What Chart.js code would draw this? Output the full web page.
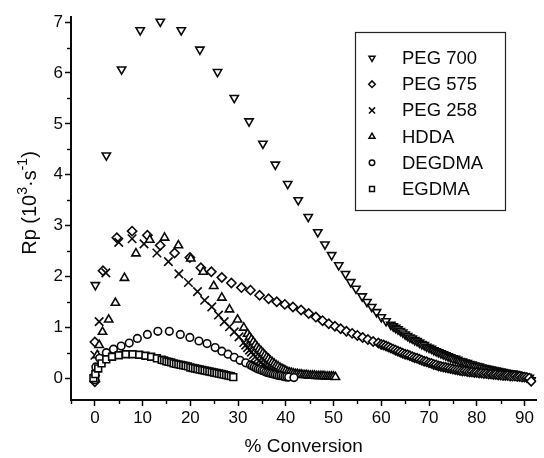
<!DOCTYPE html>
<html>
<head>
<meta charset="utf-8">
<script src="https://cdn.jsdelivr.net/npm/chart.js@4/dist/chart.umd.min.js"></script>
<style>
html,body{margin:0;padding:0;background:#fff;}
#wrap{width:544px;height:458px;position:relative;}
</style>
</head>
<body>
<div id="wrap"><canvas id="c" width="544" height="458"></canvas></div>
<script>
// ---- Data: [% conversion, Rp (10^3 s^-1)] ----
const seriesLabels = ["PEG 700", "PEG 575", "PEG 258", "HDDA", "DEGDMA", "EGDMA"];

const peg700 = [[0,0.0],[0.1,1.83],[2.4,4.38],[5.6,6.07],[9.5,6.84],[13.7,7.01],[18.1,6.84],[22.0,6.46],[25.7,6.02],[29.2,5.51],[32.3,5.05],[35.2,4.61],[37.8,4.20],[40.4,3.82],[42.6,3.50],[44.7,3.17],[46.7,2.87],[48.2,2.63],[49.6,2.42],[51.1,2.22],[52.5,2.05],[53.6,1.89],[54.7,1.76],[56.0,1.61],[57.0,1.50],[58.0,1.40],[59.0,1.30],[60.0,1.20],[61.0,1.12],[62.0,1.05],
  [62.5,1.02],[63.0,0.99],[63.5,0.96],[64.0,0.93],[64.5,0.90],[65.0,0.86],[65.5,0.83],[66.0,0.80],[66.5,0.78],[67.0,0.75],[67.5,0.73],[68.0,0.70],[68.5,0.67],[69.0,0.65],[69.5,0.62],[70.0,0.60],[70.5,0.58],[71.0,0.55],[71.5,0.53],[72.0,0.51],[72.5,0.49],[73.0,0.47],[73.5,0.45],[74.0,0.43],[74.5,0.41],[75.0,0.39],[75.5,0.38],[76.0,0.36],[76.5,0.34],[77.0,0.33],[77.5,0.31],[78.0,0.30],[78.5,0.28],[79.0,0.27],[79.5,0.25],[80.0,0.24],[80.5,0.23],[81.0,0.21],[81.5,0.20],[82.0,0.19],[82.5,0.18],[83.0,0.17],[83.5,0.16],[84.0,0.15],[84.5,0.14],[85.0,0.13],[85.5,0.12],[86.0,0.11],[86.5,0.10],[87.0,0.09],[87.5,0.09],[88.0,0.08],[88.5,0.07],[89.0,0.06],[89.5,0.05],[90.0,0.04],[90.5,0.03],[91.0,0.01],[91.4,-0.04]];

const peg575 = [[0,-0.07],[0,0.71],[1.7,2.11],[4.6,2.76],[7.8,2.89],[11.0,2.81],[13.7,2.61],[16.7,2.46],[19.9,2.37],[22.2,2.17],[24.4,2.09],[26.6,1.98],[28.6,1.87],[30.7,1.78],[32.6,1.73],[34.5,1.63],[36.4,1.56],[38.1,1.50],[39.8,1.45],[41.5,1.40],[43.2,1.34],[44.8,1.27],[46.3,1.20],[47.7,1.13],[49.0,1.07],[50.3,1.02],[51.5,0.97],[52.7,0.92],[53.9,0.88],[55.0,0.84],[56.1,0.80],[57.2,0.76],[58.3,0.72],[59.4,0.69],
  [60.0,0.66],[60.5,0.65],[61.0,0.63],[61.5,0.61],[62.0,0.59],[62.5,0.57],[63.0,0.55],[63.5,0.53],[64.0,0.51],[64.5,0.49],[65.0,0.47],[65.5,0.46],[66.0,0.44],[66.5,0.42],[67.0,0.40],[67.5,0.39],[68.0,0.37],[68.5,0.35],[69.0,0.33],[69.5,0.32],[70.0,0.30],[70.5,0.29],[71.0,0.27],[71.5,0.26],[72.0,0.24],[72.5,0.23],[73.0,0.22],[73.5,0.21],[74.0,0.20],[74.5,0.19],[75.0,0.18],[75.5,0.17],[76.0,0.16],[76.5,0.15],[77.0,0.14],[77.5,0.14],[78.0,0.13],[78.5,0.12],[79.0,0.12],[79.5,0.11],[80.0,0.11],[80.5,0.10],[81.0,0.10],[81.5,0.09],[82.0,0.09],[82.5,0.08],[83.0,0.08],[83.5,0.07],[84.0,0.07],[84.5,0.06],[85.0,0.06],[85.5,0.05],[86.0,0.05],[86.5,0.05],[87.0,0.04],[87.5,0.04],[88.0,0.04],[88.5,0.03],[89.0,0.03],[89.5,0.02],[90.0,0.02],[90.5,0.01],[91.0,0.00],[91.4,-0.06]];

const peg258 = [[0,0.0],[0,0.45],[0.9,1.11],[2.3,2.07],[5.0,2.67],[7.8,2.74],[10.3,2.64],[13.0,2.46],[15.4,2.29],[17.6,2.05],[19.6,1.88],[21.5,1.70],[23.0,1.53],[24.5,1.40],[25.9,1.24],[27.1,1.11],[28.2,1.01],[29.2,0.91],[30.2,0.81],
  [31.2,0.70],[31.6,0.65],[32.0,0.60],[32.4,0.55],[32.8,0.51],[33.2,0.46],[33.6,0.42],[34.0,0.38],[34.4,0.34],[34.8,0.31],[35.2,0.27],[35.6,0.24],[36.0,0.21],[36.4,0.18],[36.8,0.16],[37.2,0.14],[37.6,0.12],[38.0,0.10],[38.4,0.08],[38.8,0.07],[39.2,0.06],[39.6,0.05],[40.0,0.04],[40.4,0.03],[40.8,0.02],[41.2,0.02]];

const hdda = [[0,0.0],[0.5,0.45],[0.9,0.65],[1.6,0.91],[2.9,1.15],[4.3,1.48],[6.2,1.97],[8.6,2.45],[11.5,2.72],[14.6,2.76],[17.5,2.61],[20.1,2.35],[22.7,2.09],[24.9,1.81],[26.6,1.58],[28.2,1.35],[29.9,1.15],[31.2,0.99],
  [32.0,0.87],[32.4,0.81],[32.8,0.76],[33.2,0.71],[33.6,0.66],[34.0,0.61],[34.4,0.57],[34.8,0.53],[35.2,0.49],[35.6,0.45],[36.0,0.41],[36.4,0.38],[36.8,0.34],[37.2,0.31],[37.6,0.28],[38.0,0.25],[38.4,0.23],[38.8,0.20],[39.2,0.18],[39.6,0.16],[40.0,0.14],[40.4,0.12],[40.8,0.11],[41.2,0.10],[41.6,0.09],[42.0,0.08],[42.4,0.08],[42.8,0.07],[43.2,0.07],[43.6,0.06],[44.0,0.06],[44.4,0.06],[44.8,0.05],[45.2,0.05],[45.6,0.05],[46.0,0.05],[46.4,0.04],[46.8,0.04],[47.2,0.04],[47.6,0.04],[48.0,0.04],[48.4,0.03],[48.8,0.03],[49.2,0.03],[49.6,0.03],[50.0,0.03],[50.4,0.02]];

const degdma = [[0,-0.03],[0.2,0.22],[1.0,0.39],[2.4,0.50],[3.9,0.57],[5.5,0.63],[7.2,0.69],[8.9,0.78],[11.0,0.86],[13.2,0.92],[15.6,0.92],[17.9,0.86],[19.9,0.80],[21.8,0.73],[23.5,0.68],[25.2,0.60],[26.6,0.53],[27.9,0.47],[29.2,0.41],[30.4,0.35],[31.6,0.30],
  [32.6,0.26],[33.0,0.24],[33.4,0.22],[33.8,0.20],[34.2,0.18],[34.6,0.17],[35.0,0.15],[35.4,0.14],[35.8,0.12],[36.2,0.11],[36.6,0.10],[37.0,0.09],[37.4,0.08],[37.8,0.07],[38.2,0.06],[38.6,0.05],[39.0,0.05],[39.4,0.04],[39.8,0.03],[40.2,0.03],[40.6,0.02],[41.7,0.01]];

const egdma = [[-0.3,0.0],[0.1,0.08],[0.7,0.19],[1.4,0.29],[2.4,0.37],[3.6,0.42],[5.0,0.45],[6.5,0.47],[7.9,0.47],[9.3,0.46],[10.6,0.44],[11.8,0.42],[13.0,0.39],
  [14.0,0.36],[14.5,0.35],[15.0,0.33],[15.5,0.32],[16.0,0.31],[16.5,0.29],[17.0,0.28],[17.5,0.27],[18.0,0.26],[18.5,0.25],[19.0,0.24],[19.5,0.23],[20.0,0.21],[20.5,0.20],[21.0,0.19],[21.5,0.18],[22.0,0.17],[22.5,0.16],[23.0,0.15],[23.5,0.14],[24.0,0.13],[24.5,0.12],[25.0,0.11],[25.5,0.10],[26.0,0.09],[26.5,0.08],[27.0,0.07],[27.5,0.06],[28.0,0.05],[28.5,0.04],[29.0,0.02]];

const xTickValues = [0, 10, 20, 30, 40, 50, 60, 70, 80, 90];
const yTickValues = [0, 1, 2, 3, 4, 5, 6, 7];

// ---- Build chart ----
const ink = '#0a0a0a';
const FONT = "'Liberation Sans', Arial, sans-serif";
function pts(arr) { return arr.map(p => ({ x: p[0], y: p[1] })); }

const styles = [
  { pointStyle: 'triangle', rotation: 180, radius: 4.8 },
  { pointStyle: 'rectRot', rotation: 0, radius: 4.6 },
  { pointStyle: 'crossRot', rotation: 0, radius: 6 },
  { pointStyle: 'triangle', rotation: 0, radius: 4.8 },
  { pointStyle: 'circle', rotation: 0, radius: 3.8 },
  { pointStyle: 'rect', rotation: 0, radius: 4.8 }
];
const sets = [pts(peg700), pts(peg575), pts(peg258), pts(hdda), pts(degdma), pts(egdma)];

const datasets = sets.map((d, i) => ({
  label: seriesLabels[i],
  data: d,
  showLine: false,
  pointStyle: styles[i].pointStyle,
  rotation: styles[i].rotation,
  pointRadius: styles[i].radius,
  pointHoverRadius: styles[i].radius,
  pointBorderWidth: 1.6,
  borderColor: ink,
  backgroundColor: '#fff',
  pointBackgroundColor: '#fff',
  pointBorderColor: ink
})).reverse();

const extras = {
  id: 'extras',
  afterDraw(chart) {
    const ctx = chart.ctx;
    const xs = chart.scales.x, ys = chart.scales.y;
    ctx.save();
    ctx.strokeStyle = ink;
    ctx.lineWidth = 1.4;
    // minor ticks
    for (let v = -5; v <= 92; v += 10) {
      const px = Math.round(xs.getPixelForValue(v)) + 0.5;
      ctx.beginPath(); ctx.moveTo(px, ys.bottom); ctx.lineTo(px, ys.bottom + 4); ctx.stroke();
    }
    for (let v = 0.5; v < 7.1; v += 1) {
      const py = Math.round(ys.getPixelForValue(v)) + 0.5;
      ctx.beginPath(); ctx.moveTo(xs.left, py); ctx.lineTo(xs.left - 4, py); ctx.stroke();
    }
    // y-axis title with real superscripts
    ctx.save();
    ctx.translate(30, 203);
    ctx.rotate(-Math.PI / 2);
    ctx.fillStyle = ink;
    ctx.textBaseline = 'middle';
    ctx.textAlign = 'left';
    const parts = [
      { t: 'Rp (10', s: 20, dy: 0 },
      { t: '3', s: 14, dy: -7 },
      { t: '\u00B7s', s: 20, dy: 0 },
      { t: '-1', s: 14, dy: -7 },
      { t: ')', s: 20, dy: 0 }
    ];
    let total = 0;
    parts.forEach(p => { ctx.font = p.s + 'px ' + FONT; p.w = ctx.measureText(p.t).width; total += p.w; });
    let cx = -total / 2;
    parts.forEach(p => { ctx.font = p.s + 'px ' + FONT; ctx.fillText(p.t, cx, p.dy); cx += p.w; });
    ctx.restore();
    // legend box
    const bx = 355.5, by = 32.5, bw = 150, bh = 178;
    ctx.fillStyle = '#fff';
    ctx.fillRect(bx, by, bw, bh);
    ctx.lineWidth = 1.2;
    ctx.strokeStyle = '#222';
    ctx.strokeRect(bx, by, bw, bh);
    ctx.font = "18.5px " + FONT;
    ctx.textBaseline = 'middle';
    ctx.textAlign = 'left';
    for (let i = 0; i < seriesLabels.length; i++) {
      const y = 58 + i * 26.2;
      const st = styles[i];
      ctx.strokeStyle = ink;
      ctx.fillStyle = '#fff';
      ctx.lineWidth = 1.5;
      Chart.helpers.drawPoint(ctx, {
        pointStyle: st.pointStyle, rotation: st.rotation,
        radius: st.radius * 0.72, borderWidth: 1.5
      }, 372, y);
      ctx.fillStyle = ink;
      ctx.fillText(seriesLabels[i], 402, y + 1);
    }
    ctx.restore();
  }
};

new Chart(document.getElementById('c'), {
  type: 'scatter',
  data: { datasets: datasets },
  options: {
    responsive: false,
    animation: false,
    events: [],
    layout: { padding: { top: 17, right: 0, left: 0, bottom: 0 } },
    plugins: { legend: { display: false }, tooltip: { enabled: false } },
    scales: {
      x: {
        type: 'linear',
        min: -5, max: 92.5,
        afterBuildTicks(scale) { scale.ticks = xTickValues.map(v => ({ value: v })); },
        afterFit(scale) { scale.height = 58; },
        border: { display: true, color: ink, width: 2 },
        grid: { display: true, drawOnChartArea: false, drawTicks: true, tickLength: 6, tickWidth: 1.5, tickColor: ink },
        ticks: { color: ink, font: { size: 17, family: FONT }, padding: 2, maxRotation: 0, autoSkip: false },
        title: { display: true, text: '% Conversion', color: ink, font: { size: 19, family: FONT }, padding: { top: 5, bottom: 0 } }
      },
      y: {
        type: 'linear',
        min: -0.43, max: 7.1,
        afterBuildTicks(scale) { scale.ticks = yTickValues.map(v => ({ value: v })); },
        afterFit(scale) { scale.width = 71; },
        border: { display: true, color: ink, width: 2 },
        grid: { display: true, drawOnChartArea: false, drawTicks: true, tickLength: 6, tickWidth: 1.5, tickColor: ink },
        ticks: { color: ink, font: { size: 17, family: FONT }, padding: 2, autoSkip: false },
        title: { display: false }
      }
    }
  },
  plugins: [extras]
});
</script>
</body>
</html>
